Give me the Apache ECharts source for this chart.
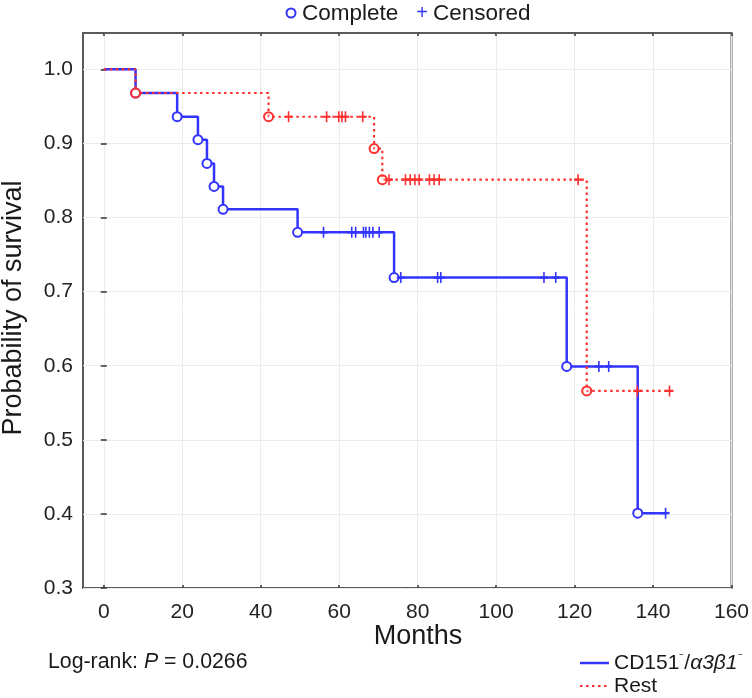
<!DOCTYPE html>
<html>
<head>
<meta charset="utf-8">
<script src="https://cdn.jsdelivr.net/npm/echarts@6/dist/echarts.min.js"></script>
<style>
html,body{margin:0;padding:0;background:#fff;}
#c{width:752px;height:698px;}
</style>
</head>
<body>
<div id="c"></div>
<script>
// ---- data ----
var xTicks = [0, 20, 40, 60, 80, 100, 120, 140, 160];
var yTicks = [0.3, 0.4, 0.5, 0.6, 0.7, 0.8, 0.9, 1.0];

// CD151-/a3b1- group: step curve (time, survival)
var blueTimes = [0, 8.1, 18.7, 24.0, 26.3, 28.1, 30.4, 49.4, 74.0, 118.0, 136.1, 143.2];
var blueSurv  = [1.0, 0.968, 0.936, 0.905, 0.873, 0.842, 0.811, 0.780, 0.719, 0.599, 0.401, 0.401];
// complete (event) times and survival
var blueEventTimes = [8.1, 18.7, 24.0, 26.3, 28.1, 30.4, 49.4, 74.0, 118.0, 136.1];
var blueEventSurv  = [0.968, 0.936, 0.905, 0.873, 0.842, 0.811, 0.780, 0.719, 0.599, 0.401];
// censored times and survival
var blueCensTimes = [56.0, 63.2, 64.2, 66.2, 66.8, 67.7, 68.6, 70.2, 75.7, 85.1, 85.9, 112.2, 115.2, 126.2, 128.7, 143.2];
var blueCensSurv  = [0.780, 0.780, 0.780, 0.780, 0.780, 0.780, 0.780, 0.780, 0.719, 0.719, 0.719, 0.719, 0.719, 0.599, 0.599, 0.401];

// Rest group
var redTimes = [0, 8.1, 42.0, 68.9, 71.0, 123.1, 144.2];
var redSurv  = [1.0, 0.968, 0.936, 0.893, 0.851, 0.566, 0.566];
var redEventTimes = [8.1, 42.0, 68.9, 71.0, 123.1];
var redEventSurv  = [0.968, 0.936, 0.893, 0.851, 0.566];
var redCensTimes = [47.1, 56.8, 59.9, 60.7, 61.6, 66.0, 72.7, 76.9, 78.1, 79.3, 80.4, 83.0, 84.2, 85.5, 120.9, 136.0, 144.2];
var redCensSurv  = [0.936, 0.936, 0.936, 0.936, 0.936, 0.936, 0.851, 0.851, 0.851, 0.851, 0.851, 0.851, 0.851, 0.851, 0.851, 0.566, 0.566];

function pairs(xs, ys) { return xs.map(function (x, i) { return [x, ys[i]]; }); }

var BLUE = '#3434ff';
var RED = '#ff3030';
var FRAME = '#5a5a5a';
var FONT = '"Liberation Sans", Arial, Helvetica, sans-serif';
var PLUS = 'path://M4,0H6V4H10V6H6V10H4V6H0V4H4Z';

function isTick(v, list) {
  for (var i = 0; i < list.length; i++) if (Math.abs(v - list[i]) < 1e-6) return true;
  return false;
}

var chart = echarts.init(document.getElementById('c'), null, {renderer: 'canvas'});
var option = {
  backgroundColor: '#fff',
  animation: false,
  grid: {left: 83, top: 33, right: 19, bottom: 110, show: true, borderColor: FRAME, borderWidth: 2, backgroundColor: 'transparent'},
  xAxis: [{
    type: 'value', min: -5.3, max: 160, minInterval: 20, maxInterval: 20, splitNumber: 8,
    axisLine: {show: false},
    axisTick: {show: true, inside: true, length: 3, lineStyle: {color: '#333', width: 1.5},
      customValues: xTicks},
    splitLine: {show: true, lineStyle: {color: '#ececec', width: 1}},
    axisLabel: {show: true, margin: 14, fontSize: 21, color: '#222', fontFamily: FONT,
      customValues: xTicks,
      formatter: function (v) { return isTick(v, xTicks) ? String(Math.round(v)) : ''; }}
  }, {
    type: 'value', position: 'top', min: -5.3, max: 160, minInterval: 20, maxInterval: 20,
    axisLine: {show: false}, splitLine: {show: false}, axisLabel: {show: false},
    axisTick: {show: true, inside: true, length: 3, lineStyle: {color: '#333', width: 1.5}, customValues: xTicks}
  }],
  yAxis: [{
    type: 'value', min: 0.3, max: 1.049,
    axisLine: {show: false},
    axisTick: {show: true, inside: true, length: 3, lineStyle: {color: '#333', width: 1.5}, customValues: yTicks},
    splitLine: {show: true, lineStyle: {color: '#ececec', width: 1}},
    axisLabel: {show: true, margin: 10, fontSize: 21, color: '#222', fontFamily: FONT,
      customValues: yTicks,
      formatter: function (v) { return isTick(v, yTicks) ? v.toFixed(1) : ''; }}
  }, {
    type: 'value', position: 'right', min: 0.3, max: 1.049,
    axisLine: {show: false}, splitLine: {show: false}, axisLabel: {show: false},
    axisTick: {show: true, inside: true, length: 3, lineStyle: {color: '#333', width: 1.5}, customValues: yTicks}
  }],
  series: [
    {name: 'CD151-/a3b1-', type: 'line', step: 'end', data: pairs(blueTimes, blueSurv), showSymbol: false,
      lineStyle: {color: BLUE, width: 2.5}, z: 2},
    {name: 'Rest', type: 'line', step: 'end', data: pairs(redTimes, redSurv), showSymbol: false,
      lineStyle: {color: RED, width: 2.2, type: [2.5, 3.5]}, z: 3},
    {name: 'blue complete', type: 'scatter', data: pairs(blueEventTimes, blueEventSurv), symbol: 'circle', symbolSize: 9,
      itemStyle: {color: '#ffffff', borderColor: BLUE, borderWidth: 2, opacity: 1}, z: 4},
    {name: 'red complete', type: 'scatter', data: pairs(redEventTimes, redEventSurv), symbol: 'circle', symbolSize: 9,
      itemStyle: {color: 'rgba(255,255,255,0.3)', borderColor: RED, borderWidth: 2, opacity: 1}, z: 5},
    {name: 'blue censored', type: 'scatter', data: pairs(blueCensTimes, blueCensSurv), symbol: PLUS, symbolSize: [8, 11],
      itemStyle: {color: BLUE, opacity: 1}, z: 4},
    {name: 'red censored', type: 'scatter', data: pairs(redCensTimes, redCensSurv), symbol: PLUS, symbolSize: [8, 11],
      itemStyle: {color: RED, opacity: 1}, z: 5}
  ],
  graphic: [
    // top legend
    {type: 'circle', shape: {cx: 291, cy: 13, r: 4.5}, style: {fill: 'none', stroke: BLUE, lineWidth: 2}},
    {type: 'text', x: 302, y: 14, style: {text: 'Complete', font: '22.5px ' + FONT, fill: '#1a1a1a', verticalAlign: 'middle', align: 'left'}},
    {type: 'text', x: 422, y: 13, style: {text: '+', font: '20px ' + FONT, fill: BLUE, verticalAlign: 'middle', align: 'center'}},
    {type: 'text', x: 433, y: 14, style: {text: 'Censored', font: '22.5px ' + FONT, fill: '#1a1a1a', verticalAlign: 'middle', align: 'left'}},
    // axis titles
    {type: 'text', x: 418, y: 637, style: {text: 'Months', font: '27px ' + FONT, fill: '#1a1a1a', verticalAlign: 'middle', align: 'center'}},
    {type: 'text', x: 14, y: 308, rotation: Math.PI / 2, style: {text: 'Probability of survival', font: '27px ' + FONT, fill: '#1a1a1a', verticalAlign: 'middle', align: 'center'}},
    // log-rank note
    {type: 'text', x: 48, y: 662, style: {
      text: '{n|Log-rank: }{i|P}{n| = 0.0266}', verticalAlign: 'middle', align: 'left',
      rich: {n: {font: '21.3px ' + FONT, fill: '#1a1a1a'}, i: {font: 'italic 21.3px ' + FONT, fill: '#1a1a1a'}}}},
    // bottom-right legend
    {type: 'line', shape: {x1: 580, y1: 663, x2: 609, y2: 663}, style: {stroke: BLUE, lineWidth: 2.5}},
    {type: 'text', x: 614, y: 663, style: {
      text: '{n|CD151}{s|⁻}{n|/}{i|α3β1}{s|⁻}', verticalAlign: 'middle', align: 'left',
      rich: {n: {font: '21px ' + FONT, fill: '#1a1a1a'}, i: {font: 'italic 21px ' + FONT, fill: '#1a1a1a'}, s: {font: '14px ' + FONT, fill: '#1a1a1a', verticalAlign: 'top'}}}},
    {type: 'line', shape: {x1: 580, y1: 686, x2: 609, y2: 686}, style: {stroke: RED, lineWidth: 2.2, lineDash: [2.5, 3.5]}},
    {type: 'text', x: 614, y: 686, style: {text: 'Rest', font: '21px ' + FONT, fill: '#1a1a1a', verticalAlign: 'middle', align: 'left'}}
  ]
};
chart.setOption(option);
</script>
</body>
</html>
